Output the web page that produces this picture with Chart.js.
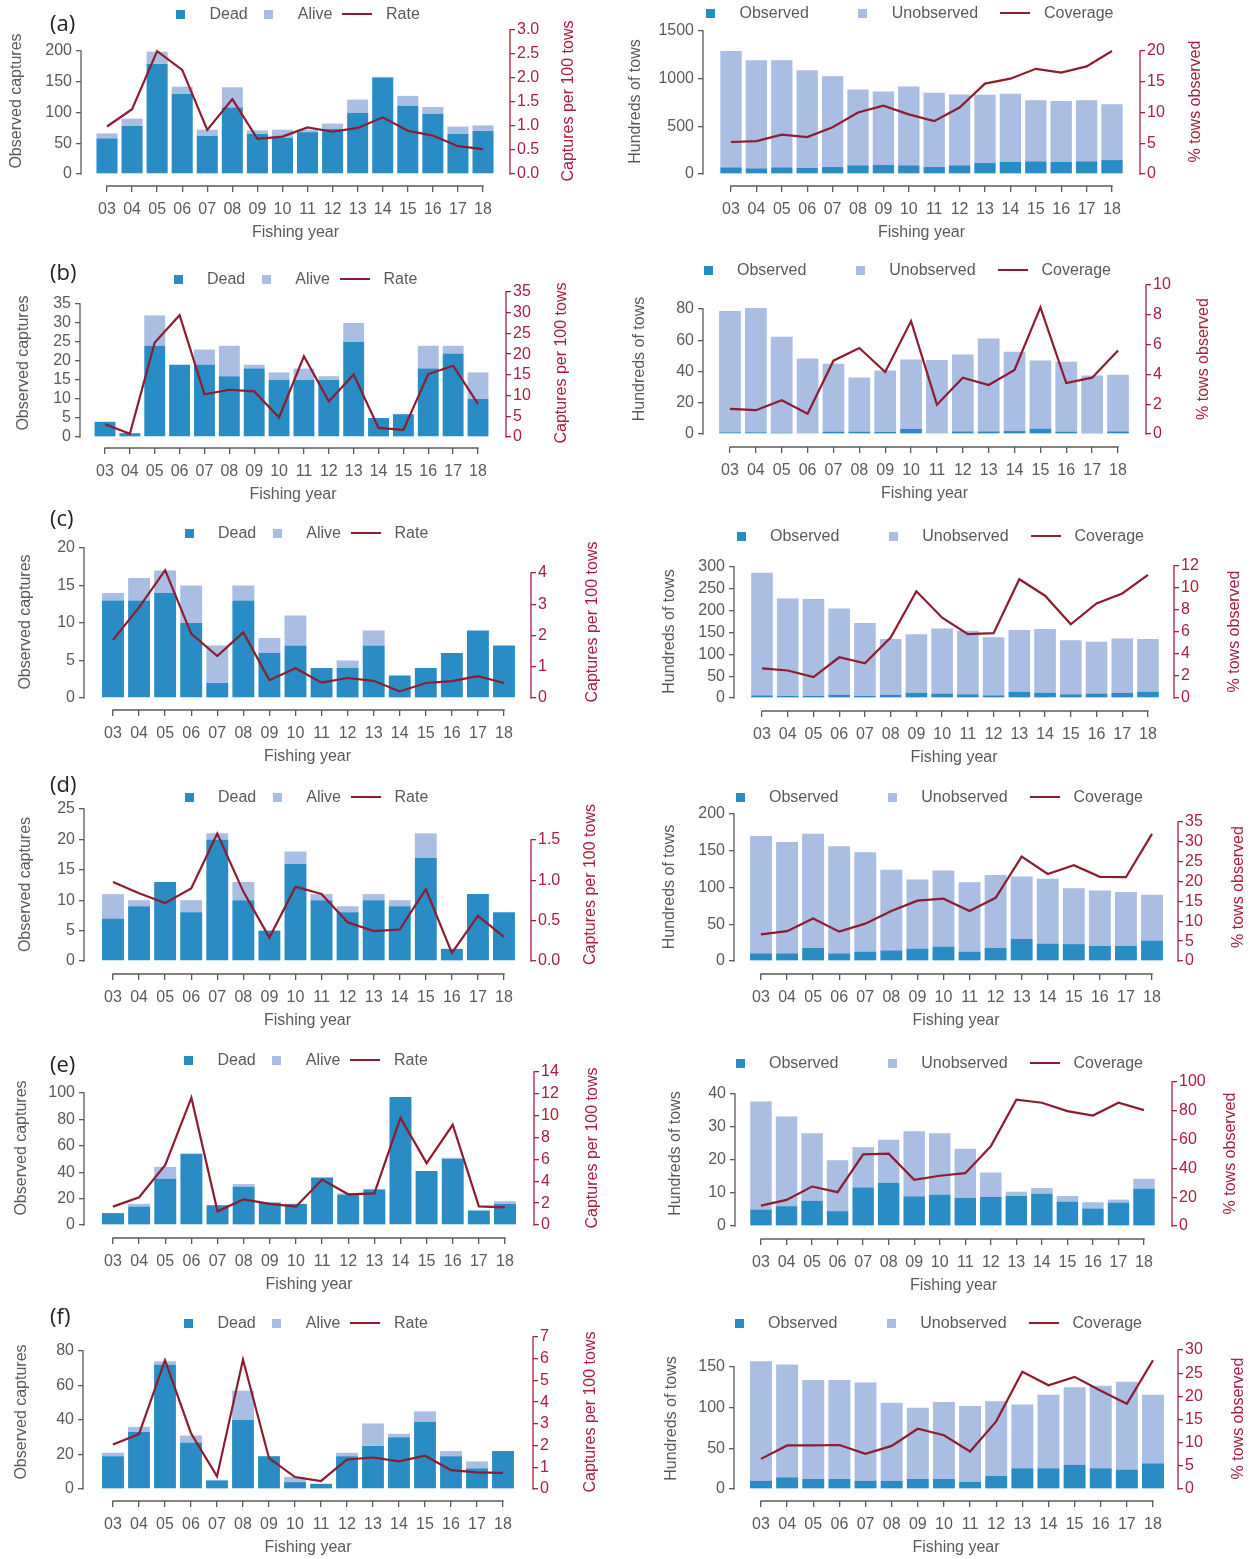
<!DOCTYPE html>
<html>
<head>
<meta charset="utf-8">
<script src="https://cdn.jsdelivr.net/npm/chart.js@4.4.1/dist/chart.umd.min.js"></script>
<style>
  body { margin: 0; background: #fff; }
  #fig { position: relative; width: 1252px; height: 1559px; overflow: hidden; font-family: 'Liberation Sans', Arial, sans-serif; }
  .panel { position: absolute; }
  .tag { position: absolute; font-family: 'Open Sans', sans-serif; font-size: 22px; color: #222; line-height: 1; transform: translateY(-50%); }
  .legend { position: absolute; display: grid; grid-auto-flow: column; grid-auto-columns: 1fr; font-size: 16px; color: #5a5a5a; line-height: 1; transform: translateY(-50%); }
  .legend .item { display: flex; align-items: center; }
  .legend .sym { width: 30px; height: 12px; display: flex; align-items: center; justify-content: center; }
  .legend .txt { margin-left: 14px; white-space: nowrap; }
</style>
</head>
<body>
<div id="fig"></div>
<script>
// ---------------------------
// Data
// ---------------------------
const years = ['03','04','05','06','07','08','09','10','11','12','13','14','15','16','17','18'];

// (a)
const deadA  = [58, 78, 179, 130, 62, 108, 65, 59, 68, 73, 99, 157, 111, 98, 65, 70];
const aliveA = [8, 12, 20, 12, 10, 33, 6, 13, 4, 9, 22, 1, 16, 11, 12, 9];
const rateA  = [0.99, 1.35, 2.56, 2.17, 0.92, 1.56, 0.73, 0.78, 0.97, 0.88, 0.96, 1.18, 0.9, 0.8, 0.58, 0.52];
const obsA   = [70, 59, 70, 63, 73, 91, 94, 91, 73, 91, 115, 126, 133, 126, 133, 146];
const unobsA = [1220, 1134, 1123, 1025, 952, 795, 771, 826, 778, 743, 715, 715, 641, 641, 641, 586];
const covA   = [5.2, 5.35, 6.4, 6.0, 7.6, 10.0, 11.1, 9.7, 8.6, 10.8, 14.7, 15.5, 17.1, 16.5, 17.5, 20.0];

// (b)
const deadB  = [4, 1, 24, 19, 19, 16, 18, 15, 15, 15, 25, 5, 6, 18, 22, 10];
const aliveB = [0, 0, 8, 0, 4, 8, 1, 2, 3, 1, 5, 0, 0, 6, 2, 7];
const rateB  = [3.1, 0.8, 22.8, 29.4, 10.3, 11.4, 11.0, 4.7, 19.5, 8.6, 15.1, 2.2, 1.7, 15.2, 17.2, 8.0];
const obsB   = [1.1, 1.1, 0.9, 0.5, 1.5, 1.5, 1.3, 3.2, 0.5, 1.7, 1.7, 1.9, 3.4, 1.5, 0.6, 1.7];
const unobsB = [77.6, 79.5, 61.3, 47.8, 43.4, 34.6, 39.3, 44.5, 46.8, 49.2, 59.5, 50.7, 43.7, 44.7, 36.8, 36.2];
const covB   = [1.68, 1.6, 2.26, 1.36, 4.92, 5.77, 4.16, 7.58, 1.97, 3.78, 3.29, 4.3, 8.5, 3.42, 3.78, 5.6];

// (c)
const deadC  = [13, 13, 14, 10, 2, 13, 6, 7, 4, 4, 7, 3, 4, 6, 9, 7];
const aliveC = [1, 3, 3, 5, 5, 2, 2, 4, 0, 1, 2, 0, 0, 0, 0, 0];
const rateC  = [1.86, 2.9, 4.09, 2.06, 1.34, 2.1, 0.57, 0.95, 0.49, 0.64, 0.55, 0.21, 0.48, 0.54, 0.7, 0.48];
const obsC   = [6, 5, 4.6, 7, 4.6, 7, 12, 10, 8.5, 6, 14, 12, 8.5, 10, 11.5, 14];
const unobsC = [281, 223, 222.4, 198, 167.4, 128, 134, 149, 145.5, 133, 142, 146, 123.5, 119, 124.5, 121];
const covC   = [2.7, 2.5, 1.9, 3.7, 3.15, 5.5, 9.7, 7.3, 5.8, 5.9, 10.8, 9.3, 6.7, 8.6, 9.5, 11.2];

// (d)
const deadD  = [7, 9, 13, 8, 20, 10, 5, 16, 10, 8, 10, 9, 17, 2, 11, 8];
const aliveD = [4, 1, 0, 2, 1, 3, 0, 2, 1, 1, 1, 1, 4, 0, 0, 0];
const rateD  = [0.98, 0.84, 0.72, 0.9, 1.58, 0.86, 0.29, 0.92, 0.83, 0.48, 0.37, 0.39, 0.89, 0.1, 0.56, 0.3];
const obsD   = [10.4, 10.4, 18, 10.4, 12.7, 14.5, 16.8, 19.5, 12.7, 18, 30, 23.6, 23, 20.4, 20.4, 27.7];
const unobsD = [159.6, 151.6, 155, 145.6, 135.3, 109.5, 94.2, 103.5, 94.3, 99, 85, 88.4, 76, 75.6, 73.6, 62.3];
const covD   = [6.7, 7.5, 10.7, 7.4, 9.4, 12.6, 15.2, 15.7, 12.6, 15.9, 26.3, 21.9, 24.1, 21.2, 21.1, 32];

// (e)
const deadE  = [9, 14, 35, 54, 15, 29, 17, 16, 36, 23, 27, 97, 41, 50, 11, 16];
const aliveE = [0, 2, 9, 0, 0, 2, 0, 0, 0, 1, 0, 0, 0, 1, 0, 2];
const rateE  = [1.68, 2.54, 5.5, 11.65, 1.25, 2.35, 1.93, 1.68, 4.16, 2.81, 2.9, 9.8, 5.66, 9.17, 1.71, 1.62];
const obsE   = [5.0, 6.0, 7.6, 4.5, 11.7, 13.1, 9.0, 9.5, 8.6, 8.8, 9.1, 9.8, 7.4, 5.3, 7.1, 11.3];
const unobsE = [32.7, 27.2, 20.5, 15.4, 12.2, 13.0, 19.7, 18.6, 14.8, 7.4, 1.3, 1.7, 1.7, 1.9, 0.9, 3.0];
const covE   = [14.2, 18.1, 27.4, 23.5, 49.8, 50.2, 32.1, 34.9, 36.7, 55.3, 87.7, 85.6, 79.8, 76.7, 85.6, 80.5];

// (f)
const deadF  = [19, 33, 72, 27, 5, 40, 19, 4, 3, 19, 25, 30, 39, 19, 12, 22];
const aliveF = [2, 3, 2, 4, 0, 17, 0, 3, 0, 2, 13, 2, 6, 3, 4, 0];
const rateF  = [2.05, 2.53, 5.93, 2.57, 0.58, 5.96, 1.42, 0.55, 0.37, 1.36, 1.45, 1.27, 1.53, 0.87, 0.77, 0.74];
const obsF   = [9.9, 14.4, 12.3, 12.3, 9.9, 9.9, 12.3, 12.3, 8.6, 16, 25.5, 25.5, 29.6, 25.5, 23.8, 31.6];
const unobsF = [147.1, 138.6, 121.7, 121.7, 121.1, 96.1, 87.7, 94.7, 93.4, 92, 78.5, 90.5, 95.4, 101.5, 108.2, 84.4];
const covF   = [6.5, 9.4, 9.4, 9.5, 7.6, 9.3, 13.0, 11.6, 8.1, 14.6, 25.3, 22.4, 24.2, 21.2, 18.4, 27.8];

// tick labels
const capTicksA  = ['0','50','100','150','200'];
const rateTicksA = ['0.0','0.5','1.0','1.5','2.0','2.5','3.0'];
const towTicksA  = ['0','500','1000','1500'];
const covTicksA  = ['0','5','10','15','20'];
const capTicksB  = ['0','5','10','15','20','25','30','35'];
const rateTicksB = ['0','5','10','15','20','25','30','35'];
const towTicksB  = ['0','20','40','60','80'];
const covTicksB  = ['0','2','4','6','8','10'];
const capTicksC  = ['0','5','10','15','20'];
const rateTicksC = ['0','1','2','3','4'];
const towTicksC  = ['0','50','100','150','200','250','300'];
const covTicksC  = ['0','2','4','6','8','10','12'];
const capTicksD  = ['0','5','10','15','20','25'];
const rateTicksD = ['0.0','0.5','1.0','1.5'];
const towTicksD  = ['0','50','100','150','200'];
const covTicksD  = ['0','5','10','15','20','25','30','35'];
const capTicksE  = ['0','20','40','60','80','100'];
const rateTicksE = ['0','2','4','6','8','10','12','14'];
const towTicksE  = ['0','10','20','30','40'];
const covTicksE  = ['0','20','40','60','80','100'];
const capTicksF  = ['0','20','40','60','80'];
const rateTicksF = ['0','1','2','3','4','5','6','7'];
const towTicksF  = ['0','50','100','150'];
const covTicksF  = ['0','5','10','15','20','25','30'];

// ---------------------------
// Styles
// ---------------------------
const DARK = '#2a8cc4';
const LIGHT = '#aabde3';
const LINE = '#8c1c2e';
const RED = '#a8203c';
const GREY = '#5a5a5a';
const AXIS = '#5a5a5a';

const NAMES = {
  capt: { items: ['Dead', 'Alive', 'Rate'], left: 'Observed captures', right: 'Captures per 100 tows', pad: 6 },
  tows: { items: ['Observed', 'Unobserved', 'Coverage'], left: 'Hundreds of tows', right: '% tows observed', pad: 22 }
};

// panel layout (page pixels)
const panels = [
  { tag:'(a)', tagY:22, kind:'capt', box:[0,0,620,250], ax:81, bx:510, yX:186, y0:174, yL:51, yR:30, x03:107, x18:483, lx:180.5, ly:14, tl:17, tr:569,
    bars:[deadA, aliveA], line:rateA, tL:capTicksA, tR:rateTicksA },
  { kind:'tows', box:[620,0,632,250], ax:703, bx:1140, yX:186, y0:174, yL:31, yR:51, x03:731, x18:1112, lx:710.5, ly:13, tl:636, tr:1196,
    bars:[obsA, unobsA], line:covA, tL:towTicksA, tR:covTicksA },
  { tag:'(b)', tagY:271, kind:'capt', box:[0,250,620,255], ax:80, bx:506, yX:448, y0:437, yL:304, yR:292, x03:105, x18:478, lx:178, ly:279, tl:24, tr:562,
    bars:[deadB, aliveB], line:rateB, tL:capTicksB, tR:rateTicksB },
  { kind:'tows', box:[620,250,632,255], ax:703, bx:1146, yX:447, y0:434, yL:309, yR:285, x03:730, x18:1118, lx:708, ly:270, tl:640, tr:1204,
    bars:[obsB, unobsB], line:covB, tL:towTicksB, tR:covTicksB },
  { tag:'(c)', tagY:517, kind:'capt', box:[0,505,620,265], ax:84, bx:531, yX:710, y0:698, yL:548, yR:573, x03:113, x18:504, lx:189, ly:533, tl:26, tr:593,
    bars:[deadC, aliveC], line:rateC, tL:capTicksC, tR:rateTicksC },
  { kind:'tows', box:[620,505,632,265], ax:734, bx:1174, yX:711, y0:698, yL:567, yR:566, x03:762, x18:1148, lx:741, ly:536, tl:670, tr:1235,
    bars:[obsC, unobsC], line:covC, tL:towTicksC, tR:covTicksC },
  { tag:'(d)', tagY:783, kind:'capt', box:[0,770,620,265], ax:84, bx:531, yX:974, y0:961, yL:809, yR:840, x03:113, x18:504, lx:189, ly:797, tl:26, tr:591,
    bars:[deadD, aliveD], line:rateD, tL:capTicksD, tR:rateTicksD },
  { kind:'tows', box:[620,770,632,265], ax:734, bx:1178, yX:974, y0:961, yL:814, yR:822, x03:761, x18:1152, lx:740, ly:797, tl:670, tr:1239,
    bars:[obsD, unobsD], line:covD, tL:towTicksD, tR:covTicksD },
  { tag:'(e)', tagY:1063, kind:'capt', box:[0,1035,620,260], ax:84, bx:534, yX:1238, y0:1225, yL:1093, yR:1072, x03:113, x18:505, lx:188.5, ly:1060, tl:22, tr:593,
    bars:[deadE, aliveE], line:rateE, tL:capTicksE, tR:rateTicksE },
  { kind:'tows', box:[620,1035,632,260], ax:735, bx:1172, yX:1239, y0:1226, yL:1094, yR:1082, x03:761, x18:1144, lx:740, ly:1063, tl:676, tr:1231,
    bars:[obsE, unobsE], line:covE, tL:towTicksE, tR:covTicksE },
  { tag:'(f)', tagY:1315, kind:'capt', box:[0,1295,620,264], ax:83, bx:533, yX:1501, y0:1489, yL:1351, yR:1337, x03:113, x18:503, lx:188.5, ly:1323, tl:22, tr:591,
    bars:[deadF, aliveF], line:rateF, tL:capTicksF, tR:rateTicksF },
  { kind:'tows', box:[620,1295,632,264], ax:734, bx:1178, yX:1501, y0:1489, yL:1367, yR:1350, x03:761, x18:1153, lx:739, ly:1323, tl:672, tr:1239,
    bars:[obsF, unobsF], line:covF, tL:towTicksF, tR:covTicksF }
];

Chart.defaults.font.family = "'Liberation Sans', Arial, sans-serif";
Chart.defaults.font.size = 16;

// R-style axes: lines only between first and last tick, plus rotated titles
const rStyle = {
  id: 'rStyle',
  afterDraw(chart, args, o) {
    const { ctx, chartArea: ca, scales } = chart;
    const seg = (color, x1, y1, x2, y2) => {
      ctx.strokeStyle = color;
      ctx.beginPath(); ctx.moveTo(x1, y1); ctx.lineTo(x2, y2); ctx.stroke();
    };
    const ends = s => [s.getPixelForValue(s.ticks[0].value), s.getPixelForValue(s.ticks[s.ticks.length - 1].value)];
    ctx.save();
    ctx.lineWidth = 1.3;
    const [xa, xb] = ends(scales.x);
    seg(AXIS, xa - 0.65, ca.bottom, xb + 0.65, ca.bottom);
    const [ya, yb] = ends(scales.y);
    seg(AXIS, ca.left, ya + 0.65, ca.left, yb - 0.65);
    const [ra, rb] = ends(scales.y2);
    seg(RED, ca.right, ra + 0.65, ca.right, rb - 0.65);

    ctx.font = "16px 'Liberation Sans', Arial, sans-serif";
    ctx.textAlign = 'center';
    ctx.textBaseline = 'middle';
    ctx.fillStyle = GREY;
    ctx.fillText('Fishing year', (ca.left + ca.right) / 2, ca.bottom + 47);
    const cy = (ca.top + ca.bottom) / 2 - 7;
    [[o.tl, o.left, GREY], [o.tr, o.right, RED]].forEach(([tx, text, color]) => {
      ctx.save();
      ctx.translate(tx, cy);
      ctx.rotate(-Math.PI / 2);
      ctx.fillStyle = color;
      ctx.fillText(text, 0, 0);
      ctx.restore();
    });
    ctx.restore();
  }
};

const fig = document.getElementById('fig');

function symbol(color, isLine) {
  const s = document.createElement('span');
  s.className = 'sym';
  const m = document.createElement('span');
  m.style.background = color;
  m.style.width = isLine ? '30px' : '9px';
  m.style.height = isLine ? '2.4px' : '9px';
  s.appendChild(m);
  return s;
}

function buildPanel(p) {
  const [bx0, by0, bw, bh] = p.box;
  const names = NAMES[p.kind];

  const wrap = document.createElement('div');
  wrap.className = 'panel';
  Object.assign(wrap.style, { left: bx0 + 'px', top: by0 + 'px', width: bw + 'px', height: bh + 'px' });
  const cv = document.createElement('canvas');
  cv.width = bw; cv.height = bh;
  wrap.appendChild(cv);
  fig.appendChild(wrap);

  // axis ranges so that the ticks land where the figure has them
  const top = Math.min(p.yL, p.yR);
  const topL = +p.tL[p.tL.length - 1], topR = +p.tR[p.tR.length - 1];
  const kL = (p.y0 - p.yL) / topL, kR = (p.y0 - p.yR) / topR;
  const kx = (p.x18 - p.x03) / (years.length - 1);
  const first = +years[0], last = +years[years.length - 1];

  const pts = arr => arr.map((v, i) => ({ x: +years[i], y: v }));
  const tickSet = labels => s => { s.ticks = labels.map(l => ({ value: +l })); };
  const tickLabel = labels => v => labels.find(l => +l === v);

  new Chart(cv, {
    type: 'bar',
    data: {
      datasets: [
        { label: names.items[0], data: pts(p.bars[0]), backgroundColor: DARK, order: 1, yAxisID: 'y',
          categoryPercentage: 1, barPercentage: 0.84 },
        { label: names.items[1], data: pts(p.bars[1]), backgroundColor: LIGHT, order: 2, yAxisID: 'y',
          categoryPercentage: 1, barPercentage: 0.84 },
        { type: 'line', label: names.items[2], data: pts(p.line), borderColor: LINE, backgroundColor: LINE,
          borderWidth: 2.2, pointRadius: 0, tension: 0, order: 0, yAxisID: 'y2' }
      ]
    },
    options: {
      responsive: false,
      animation: false,
      layout: { padding: { top: top - by0, left: 0, right: 0, bottom: 0 } },
      plugins: {
        legend: { display: false },
        tooltip: { enabled: false },
        rStyle: { tl: p.tl - bx0, tr: p.tr - bx0, left: names.left, right: names.right }
      },
      scales: {
        x: {
          type: 'linear', stacked: true, offset: false,
          min: first - (p.x03 - p.ax) / kx,
          max: last + (p.bx - p.x18) / kx,
          afterBuildTicks: tickSet(years),
          afterFit: s => { s.height = by0 + bh - p.yX; },
          ticks: { autoSkip: false, maxRotation: 0, padding: 8, color: GREY, callback: tickLabel(years) },
          grid: { drawOnChartArea: false, drawTicks: true, tickLength: 6, color: AXIS, lineWidth: 1.3, offset: false },
          border: { display: false }
        },
        y: {
          position: 'left', stacked: true,
          min: -(p.yX - p.y0) / kL,
          max: (p.y0 - top) / kL,
          afterBuildTicks: tickSet(p.tL),
          afterFit: s => { s.width = p.ax - bx0; },
          ticks: { padding: 4, color: GREY, callback: tickLabel(p.tL) },
          grid: { drawOnChartArea: false, drawTicks: true, tickLength: 5, color: AXIS, lineWidth: 1.3 },
          border: { display: false }
        },
        y2: {
          position: 'right',
          min: -(p.yX - p.y0) / kR,
          max: (p.y0 - top) / kR,
          afterBuildTicks: tickSet(p.tR),
          afterFit: s => { s.width = bx0 + bw - p.bx; },
          ticks: { padding: 2, color: RED, callback: tickLabel(p.tR) },
          grid: { drawOnChartArea: false, drawTicks: true, tickLength: 5, color: RED, lineWidth: 1.3 },
          border: { display: false }
        }
      }
    },
    plugins: [rStyle]
  });

  // legend in the R layout: equal columns, symbol slot then text
  const lg = document.createElement('div');
  lg.className = 'legend';
  Object.assign(lg.style, { left: (p.lx - 15) + 'px', top: p.ly + 'px' });
  const colors = [DARK, LIGHT, LINE];
  names.items.forEach((name, i) => {
    const it = document.createElement('div');
    it.className = 'item';
    it.style.paddingRight = names.pad + 'px';
    it.appendChild(symbol(colors[i], i === 2));
    const t = document.createElement('span');
    t.className = 'txt';
    t.textContent = name;
    it.appendChild(t);
    lg.appendChild(it);
  });
  fig.appendChild(lg);

  if (p.tag) {
    const tg = document.createElement('div');
    tg.className = 'tag';
    tg.textContent = p.tag;
    Object.assign(tg.style, { left: '50px', top: p.tagY + 'px' });
    fig.appendChild(tg);
  }
}

panels.forEach(buildPanel);
</script>
</body>
</html>
